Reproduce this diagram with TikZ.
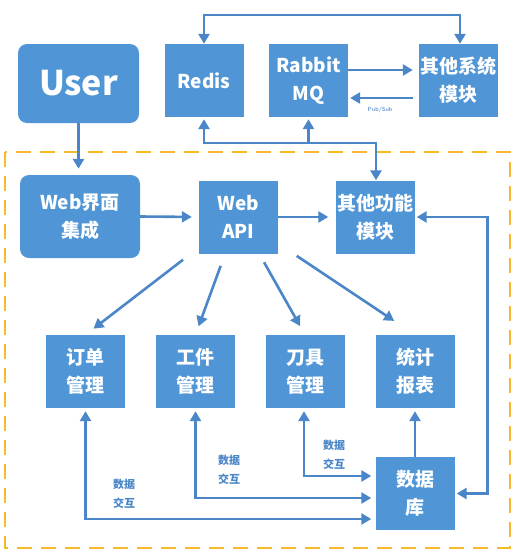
\documentclass[tikz,border=0pt]{standalone}
\usepackage{fontspec}
\newfontfamily\cjk{Noto Sans CJK SC}
\usetikzlibrary{arrows.meta}

\definecolor{boxblue}{HTML}{5096D6}
\definecolor{lineblue}{HTML}{4A86C8}
\definecolor{frameorange}{HTML}{F4BA2A}

\begin{document}
\begin{tikzpicture}[x=1pt, y=-1pt,
    box/.style={fill=boxblue, text=white, minimum width=79pt, minimum height=73pt,
        inner sep=0pt, align=center, font=\cjk\bfseries\fontsize{19}{28}\selectfont},
    roundbox/.style={box, rounded corners=9pt},
    link/.style={draw=lineblue, line width=2.6pt, -{Triangle[width=11pt,length=10pt]}},
    twoway/.style={link, {Triangle[width=11pt,length=10pt]}-{Triangle[width=11pt,length=10pt]}},
    note/.style={text=lineblue, align=center, font=\cjk\bfseries\fontsize{11}{19}\selectfont}]

    % Fix the page to the size of the reference
    \useasboundingbox (0,0) rectangle (524,552);

    % Draw the dashed frame round the system part
    \draw[frameorange, line width=2.6pt, dash pattern=on 15pt off 9pt] (5,152) rectangle (510,548);

    % Define the boxes of the top row
    \node[roundbox, minimum width=121pt, minimum height=79pt, font=\cjk\bfseries\fontsize{34}{40}\selectfont] (User) at (78.5,83.5) {User};
    \node[box] (Redis) at (204,80.5) {Redis};
    \node[box] (MQ) at (308.5,80.5) {Rabbit\\MQ};
    \node[box] (SysMod) at (458.5,80.5) {其他系统\\模块};

    % Define the boxes of the web layer
    \node[roundbox, minimum width=120pt, minimum height=83pt] (WebUI) at (80,216.5) {Web界面\\集成};
    \node[box] (API) at (238.5,217) {Web\\API};
    \node[box] (FunMod) at (375,217) {其他功能\\模块};

    % Define the business boxes and the database
    \node[box] (Order) at (85.5,371.5) {订单\\管理};
    \node[box] (Part) at (195.5,371.5) {工件\\管理};
    \node[box] (Tool) at (305,371.5) {刀具\\管理};
    \node[box] (Stat) at (415,371.5) {统计\\报表};
    \node[box] (DB) at (415,493.5) {数据\\库};

    % Draw the links between Redis, RabbitMQ and the other modules
    \draw[twoway] (Redis.north) -- ++(0,-29) -| ([xshift=1.5pt]SysMod.north);
    \draw[link, shorten >=6pt] ([yshift=10.5pt]MQ.east) -- ([yshift=10.5pt]SysMod.west);
    \draw[link, shorten <=6pt, shorten >=2pt] ([yshift=-17.5pt]SysMod.west) -- ([yshift=-17.5pt]MQ.east);
    \node[text=lineblue!80, font=\sffamily\bfseries\fontsize{6}{7}\selectfont] (PubSub) at (380,110) {Pub/Sub};
    \coordinate (Rail) at (0,143);
    \draw[twoway, shorten <=2pt] (Redis.south) -- (Redis.south |- Rail) -| ([xshift=1pt]FunMod.north);
    \draw[link, shorten >=2pt] (MQ.south |- Rail) -- (MQ.south);

    % Draw the links of the web layer
    \draw[link, shorten >=6pt] (User.south) -- (User.south |- WebUI.north);
    \draw[link, shorten >=7pt] (WebUI.east) -- (API.west);
    \draw[link, shorten >=7pt] (API.east) -- (FunMod.west);

    % Draw the links from Web API down to the business boxes
    \draw[link, shorten <=70pt, shorten >=10pt] (API.center) -- (Order.north);
    \draw[link, shorten <=52pt, shorten >=9pt] (API.center) -- (Part.north);
    \draw[link, shorten <=52pt, shorten >=10pt] (API.center) -- (Tool.north);
    \draw[link, shorten <=70pt, shorten >=25pt] (API.center) -- (Stat.north);

    % Draw the links between the database and the boxes
    \draw[link, shorten >=3pt] (DB.north) -- (Stat.south);
    \draw[twoway, shorten <=2pt, shorten >=2pt] (DB.east) -- ++(33,0) |- (FunMod.east);
    \draw[twoway, shorten <=3pt, shorten >=4pt] ([xshift=-1pt]Tool.south) |- ([yshift=17.5pt]DB.west);
    \draw[twoway, shorten <=3pt, shorten >=4pt] (Part.south) |- ([yshift=-4.5pt]DB.west);
    \draw[twoway, shorten <=3pt, shorten >=4pt] (Order.south) |- ([yshift=-25.5pt]DB.west);

    % Add the labels on the database links
    \node[note] (OrderNote) at (124,494) {数据\\交互};
    \node[note] (PartNote) at (229,470) {数据\\交互};
    \node[note] (ToolNote) at (334,455) {数据\\交互};

\end{tikzpicture}
\end{document}
